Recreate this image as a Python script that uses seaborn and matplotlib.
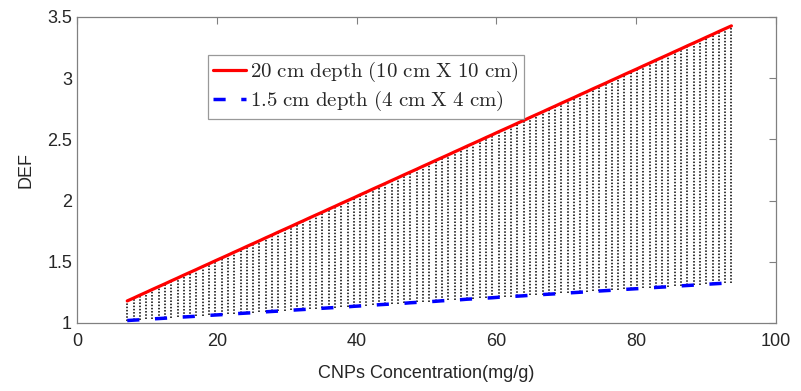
import numpy as np
import pandas as pd
import matplotlib
matplotlib.use('Agg')
import matplotlib.pyplot as plt
import seaborn as sns

# CNPs concentration (mg/g)
conc = [7.2, 8.1, 9.0, 9.9, 10.8, 11.7, 12.6, 13.5, 14.4, 15.3, 16.2, 17.1, 18.0, 18.9, 19.8,
        20.7, 21.6, 22.5, 23.4, 24.3, 25.2, 26.1, 27.0, 27.9, 28.8, 29.7, 30.6, 31.5, 32.4, 33.3,
        34.2, 35.1, 36.0, 36.9, 37.8, 38.7, 39.6, 40.5, 41.4, 42.3, 43.2, 44.1, 45.0, 45.9, 46.8,
        47.7, 48.6, 49.5, 50.4, 51.3, 52.2, 53.1, 54.0, 54.9, 55.8, 56.7, 57.6, 58.5, 59.4, 60.3,
        61.2, 62.1, 63.0, 63.9, 64.8, 65.7, 66.6, 67.5, 68.4, 69.3, 70.2, 71.1, 72.0, 72.9, 73.8,
        74.7, 75.6, 76.5, 77.4, 78.3, 79.2, 80.1, 81.0, 81.9, 82.8, 83.7, 84.6, 85.5, 86.4, 87.3,
        88.2, 89.1, 90.0, 90.9, 91.8, 92.7, 93.6]

# DEF, 20 cm depth (10 cm X 10 cm)
def_20cm = [1.180, 1.203, 1.227, 1.250, 1.274, 1.297, 1.320, 1.344, 1.367, 1.391, 1.414, 1.437,
            1.461, 1.484, 1.508, 1.531, 1.554, 1.578, 1.601, 1.625, 1.648, 1.671, 1.695, 1.718,
            1.742, 1.765, 1.788, 1.812, 1.835, 1.859, 1.882, 1.905, 1.929, 1.952, 1.976, 1.999,
            2.022, 2.046, 2.069, 2.093, 2.116, 2.139, 2.163, 2.186, 2.210, 2.233, 2.256, 2.280,
            2.303, 2.327, 2.350, 2.373, 2.397, 2.420, 2.444, 2.467, 2.490, 2.514, 2.537, 2.561,
            2.584, 2.607, 2.631, 2.654, 2.678, 2.701, 2.724, 2.748, 2.771, 2.795, 2.818, 2.841,
            2.865, 2.888, 2.912, 2.935, 2.958, 2.982, 3.005, 3.029, 3.052, 3.075, 3.099, 3.122,
            3.146, 3.169, 3.192, 3.216, 3.239, 3.263, 3.286, 3.309, 3.333, 3.356, 3.380, 3.403,
            3.426]

# DEF, 1.5 cm depth (4 cm X 4 cm)
def_15cm = [1.020, 1.023, 1.026, 1.030, 1.033, 1.036, 1.039, 1.042, 1.046, 1.049, 1.052, 1.055,
            1.059, 1.062, 1.065, 1.068, 1.071, 1.075, 1.078, 1.081, 1.084, 1.087, 1.091, 1.094,
            1.097, 1.100, 1.104, 1.107, 1.110, 1.113, 1.116, 1.120, 1.123, 1.126, 1.129, 1.132,
            1.136, 1.139, 1.142, 1.145, 1.149, 1.152, 1.155, 1.158, 1.161, 1.165, 1.168, 1.171,
            1.174, 1.177, 1.181, 1.184, 1.187, 1.190, 1.194, 1.197, 1.200, 1.203, 1.206, 1.210,
            1.213, 1.216, 1.219, 1.222, 1.226, 1.229, 1.232, 1.235, 1.238, 1.242, 1.245, 1.248,
            1.251, 1.255, 1.258, 1.261, 1.264, 1.267, 1.271, 1.274, 1.277, 1.280, 1.283, 1.287,
            1.290, 1.293, 1.296, 1.300, 1.303, 1.306, 1.309, 1.312, 1.316, 1.319, 1.322, 1.325,
            1.328]

lbl_20 = r'$\mathrm{20\ cm\ depth\ (10\ cm\ X\ 10\ cm)}$'
lbl_15 = r'$\mathrm{1.5\ cm\ depth\ (4\ cm\ X\ 4\ cm)}$'

sns.set_style('white')
plt.rcParams['font.family'] = ['Liberation Sans', 'DejaVu Sans']
plt.rcParams['mathtext.fontset'] = 'cm'
fs = 13

df = pd.DataFrame({'conc': conc, 'hi': def_20cm, 'lo': def_15cm})

fig = plt.figure(figsize=(8.01, 3.91), dpi=100)
ax = fig.add_axes([0.096, 0.174, 0.873, 0.783])

# dotted range lines between the two depths
ax.vlines(df['conc'], df['lo'], df['hi'], colors='black', linestyles=(0, (1, 1.1)), linewidth=1.1, zorder=1)

sns.lineplot(data=df, x='conc', y='hi', ax=ax, color='#ff0000', linewidth=2.3, label=lbl_20, zorder=3)
sns.lineplot(data=df, x='conc', y='lo', ax=ax, color='#0000ff', linewidth=2.5, label=lbl_15, zorder=3)
ax.lines[-1].set_dashes((3.5, 4.5))

ax.set_xlim(0, 100)
ax.set_ylim(1, 3.5)
ax.set_xticks([0, 20, 40, 60, 80, 100])
ax.set_yticks([1, 1.5, 2, 2.5, 3, 3.5])
ax.set_yticklabels(['1', '1.5', '2', '2.5', '3', '3.5'])
ax.set_xlabel('CNPs Concentration(mg/g)', fontsize=fs, color='#262626', labelpad=11)
ax.set_ylabel('DEF', fontsize=fs, color='#262626', labelpad=9)
ax.tick_params(direction='in', top=True, right=True, length=5, width=0.8,
               color='#808080', labelsize=fs, labelcolor='#262626')
ax.tick_params(axis='x', pad=7)
for s in ax.spines.values():
    s.set_color('#808080')
    s.set_linewidth(0.9)

leg = ax.legend(loc='upper left', bbox_to_anchor=(0.187, 0.876), borderaxespad=0,
                fontsize=15, frameon=True, fancybox=False, edgecolor='#808080',
                handlelength=1.6, handletextpad=0.2, borderpad=0.25, labelspacing=0.25)
leg.get_frame().set_linewidth(0.9)

fig.savefig('out.png', dpi=100)
